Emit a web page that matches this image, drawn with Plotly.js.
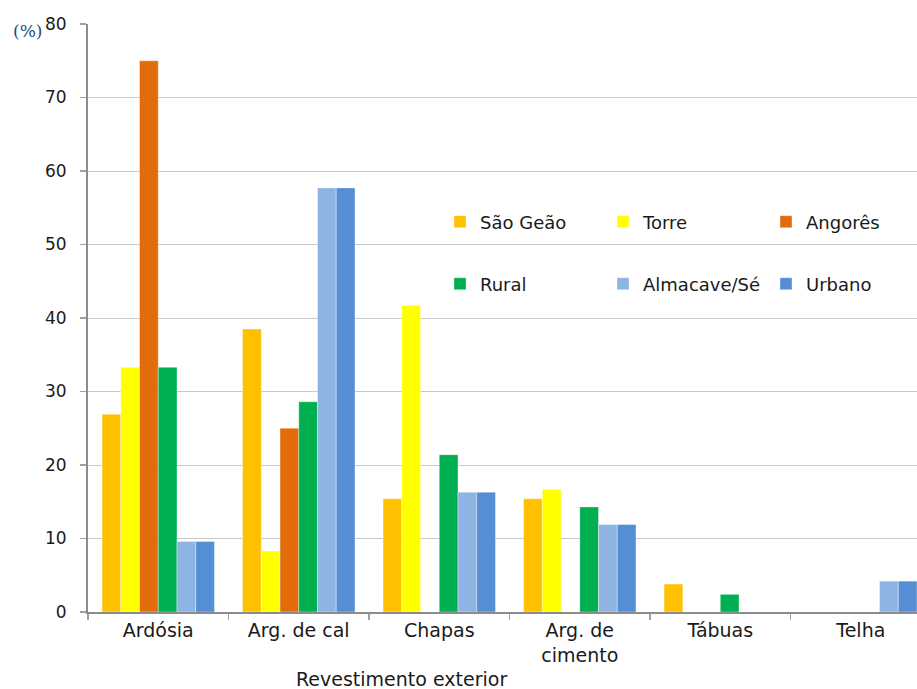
<!DOCTYPE html>
<html>
<head>
<meta charset="utf-8">
<script src="https://cdn.plot.ly/plotly-3.0.1.min.js"></script>
<style>html,body{margin:0;padding:0;overflow:hidden;background:#fff;}</style>
</head>
<body>
<div id="chart" style="width:917px;height:689px;"></div>
<script>
const categories = ["Ardósia", "Arg. de cal", "Chapas", "Arg. de<br>cimento", "Tábuas", "Telha"];
const saoGeao   = [26.9, 38.5, 15.4, 15.4, 3.8, 0];
const torre     = [33.3, 8.3, 41.7, 16.7, 0, 0];
const angores   = [75.0, 25.0, 0, 0, 0, 0];
const rural     = [33.3, 28.6, 21.4, 14.3, 2.4, 0];
const almacave  = [9.6, 57.7, 16.3, 11.9, 0, 4.2];
const urbano    = [9.6, 57.7, 16.3, 11.9, 0, 4.2];
const yTicks = [0, 10, 20, 30, 40, 50, 60, 70, 80];

const seriesNames = ["São Geão", "Torre", "Angorês", "Rural", "Almacave/Sé", "Urbano"];
const seriesValues = [saoGeao, torre, angores, rural, almacave, urbano];
const seriesColors = ["#FFC000", "#FFFF00", "#E36C0A", "#00B050", "#8EB4E3", "#558ED5"];

const font = "DejaVu Sans, Verdana, sans-serif";

const traces = seriesNames.map((n, i) => ({
  type: "bar",
  name: n,
  x: categories,
  y: seriesValues[i],
  marker: {color: seriesColors[i], line: {width: 0.6, color: "rgba(255,255,255,0.6)"}},
  legend: i < 3 ? "legend" : "legend2",
  hoverinfo: "x+y+name"
}));

const legendCommon = {
  orientation: "h",
  xref: "paper", yref: "paper",
  xanchor: "left", yanchor: "middle",
  entrywidth: 118, entrywidthmode: "pixels",
  font: {family: font, size: 18, color: "#1a1a1a"},
  bgcolor: "rgba(0,0,0,0)",
  traceorder: "normal",
  itemclick: false
};

const layout = {
  width: 917, height: 689,
  margin: {l: 88, r: 0, t: 24, b: 77, autoexpand: false},
  paper_bgcolor: "#fff", plot_bgcolor: "#fff",
  barmode: "group", bargap: 0.2, bargroupgap: 0,
  font: {family: font, size: 18, color: "#1a1a1a"},
  xaxis: {
    type: "category",
    range: [-0.5, 5.4],
    tickson: "boundaries",
    ticks: "outside", ticklen: 6, tickcolor: "#a0a0a0", tickwidth: 1.5,
    showline: true, linecolor: "#8c8c8c", linewidth: 2,
    showgrid: false,
    tickfont: {family: font, size: 19, color: "#1a1a1a"},
    fixedrange: true
  },
  yaxis: {
    range: [0, 80],
    tickvals: yTicks,
    ticktext: yTicks.map(String),
    ticks: "outside", ticklen: 6, tickcolor: "#a0a0a0", tickwidth: 1.5,
    showline: true, linecolor: "#8c8c8c", linewidth: 2,
    showgrid: true, gridcolor: "#c8c8c8", gridwidth: 1,
    zeroline: false,
    ticklabelstandoff: 10,
    tickfont: {family: font, size: 17, color: "#1a1a1a"},
    fixedrange: true
  },
  legend: Object.assign({}, legendCommon, {x: (440 - 88) / 829, y: (612 - 222) / 588}),
  legend2: Object.assign({}, legendCommon, {x: (440 - 88) / 829, y: (612 - 284) / 588}),
  annotations: [
    {text: "(%)", xref: "paper", yref: "paper", x: -88 / 829, y: 1, xanchor: "left", yanchor: "middle",
     xshift: 11, yshift: -7, showarrow: false,
     font: {family: "DejaVu Serif, Liberation Serif, serif", size: 17, color: "#1F497D"}},
    {text: "Revestimento exterior", xref: "paper", yref: "paper",
     x: (401 - 88) / 829, y: (612 - 679) / 588, xanchor: "center", yanchor: "middle", showarrow: false,
     font: {family: font, size: 19, color: "#1a1a1a"}}
  ],
  showlegend: true
};

Plotly.newPlot("chart", traces, layout, {displayModeBar: false, staticPlot: true});
</script>
</body>
</html>
